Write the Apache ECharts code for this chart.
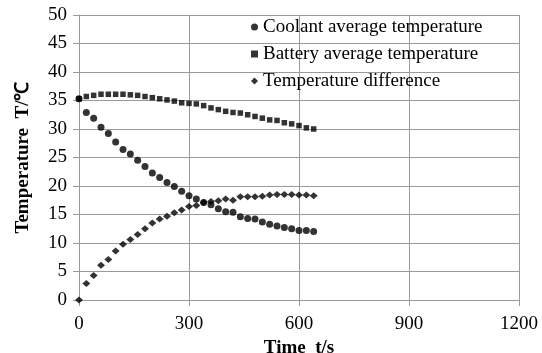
<!DOCTYPE html>
<html>
<head>
<meta charset="utf-8">
<script src="https://cdn.jsdelivr.net/npm/echarts@6/dist/echarts.min.js"></script>
<style>
html,body{margin:0;padding:0;background:#fff;}
#chart{width:542px;height:353px;}
</style>
</head>
<body>
<div id="chart"></div>
<script>
// Time (s)
const times = [0,20,40,60,80,100,120,140,160,180,200,220,240,260,280,300,320,340,360,380,400,420,440,460,480,500,520,540,560,580,600,620,640];
const coolantAvg = [35.3,32.9,31.9,30.3,29.2,27.7,26.4,25.6,24.5,23.4,22.3,21.5,20.6,19.9,19.1,18.3,17.7,17.1,16.7,16.0,15.5,15.4,14.6,14.3,14.2,13.7,13.3,13.0,12.7,12.5,12.2,12.2,12.0];
const batteryAvg = [35.3,35.7,35.9,36.1,36.1,36.1,36.1,36.0,35.9,35.7,35.5,35.3,35.1,34.9,34.6,34.5,34.4,34.1,33.7,33.4,33.1,32.9,32.8,32.5,32.2,31.9,31.6,31.5,31.1,30.9,30.6,30.2,30.0];
const tempDiff = [0,2.9,4.3,6.1,7.1,8.6,9.8,10.6,11.5,12.5,13.5,14.2,14.7,15.3,15.8,16.4,16.6,17.1,17.3,17.4,17.7,17.5,18.1,18.1,18.1,18.2,18.4,18.5,18.5,18.5,18.4,18.4,18.3];
const seriesNames = ['Coolant average temperature','Battery average temperature','Temperature difference'];
const xTicks = [0,300,600,900,1200];
const yTicks = [0,5,10,15,20,25,30,35,40,45,50];

const pair = (ys) => times.map((t,i)=>[t, ys[i]]);
const font = 'Liberation Serif';
const gridColor = '#9a9a9a';

const chart = echarts.init(document.getElementById('chart'), null, {renderer:'canvas'});
chart.setOption({
  animation:false,
  backgroundColor:'#fff',
  textStyle:{fontFamily:font},
  grid:{left:79, right:23, top:15, bottom:53, containLabel:false, outerBoundsMode:'none'},
  legend:{
    orient:'vertical', left:246, top:12, itemWidth:7, itemHeight:7, itemGap:7,
    textStyle:{fontFamily:font, fontSize:19, fontWeight:'normal', color:'#000', lineHeight:20},
    data:[
      {name:seriesNames[0], icon:'circle'},
      {name:seriesNames[1], icon:'rect'},
      {name:seriesNames[2], icon:'diamond'}
    ]
  },
  xAxis:{
    type:'value', min:xTicks[0], max:xTicks[xTicks.length-1], interval:300,
    name:'Time  t/s', nameLocation:'middle', nameGap:29,
    nameTextStyle:{fontFamily:font, fontSize:19, fontWeight:'bold', color:'#000'},
    axisLine:{show:true, lineStyle:{color:gridColor, width:1}},
    axisTick:{show:true, length:6, lineStyle:{color:gridColor}},
    axisLabel:{fontFamily:font, fontSize:19, fontWeight:'normal', color:'#000', margin:15, formatter:(v)=>String(v)},
    splitLine:{show:true, lineStyle:{color:gridColor, width:1}}
  },
  yAxis:{
    type:'value', min:yTicks[0], max:yTicks[yTicks.length-1], interval:5,
    name:'Temperature  T/℃', nameLocation:'middle', nameGap:46,
    nameTextStyle:{fontFamily:font, fontSize:19, fontWeight:'bold', color:'#000'},
    axisLine:{show:true, lineStyle:{color:gridColor, width:1}},
    axisTick:{show:true, length:6, lineStyle:{color:gridColor}},
    axisLabel:{fontFamily:font, fontSize:19, fontWeight:'normal', color:'#000', margin:12, formatter:(v)=>String(v)},
    splitLine:{show:true, lineStyle:{color:gridColor, width:1}}
  },
  series:[
    {name:seriesNames[1], type:'scatter', symbol:'rect', symbolSize:5.5, data:pair(batteryAvg), itemStyle:{color:'#000'}},
    {name:seriesNames[0], type:'scatter', symbol:'circle', symbolSize:7, data:pair(coolantAvg), itemStyle:{color:'#000'}},
    {name:seriesNames[2], type:'scatter', symbol:'diamond', symbolSize:[8,7], data:pair(tempDiff), itemStyle:{color:'#000'}}
  ]
});
</script>
</body>
</html>
